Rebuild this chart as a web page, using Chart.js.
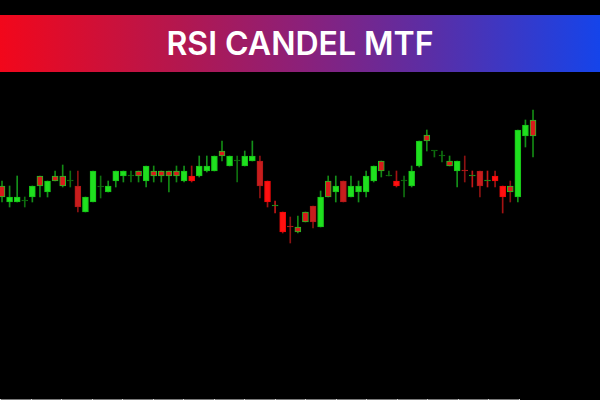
<!DOCTYPE html>
<html>
<head>
<meta charset="utf-8">
<title>RSI CANDEL MTF</title>
<script src="https://cdn.jsdelivr.net/npm/chart.js@4.4.1/dist/chart.umd.min.js"></script>
<style>
    html, body { margin: 0; padding: 0; background: #000; }
    #wrap { position: relative; width: 600px; height: 400px; overflow: hidden; }
    #chart { position: absolute; left: 0; top: 0; }
    #banner {
        position: absolute; left: 0; top: 15px; width: 600px; height: 57px;
        background: linear-gradient(to right, #f2071b 0%, #b3174f 30%, #8c2079 50%, #5a2ea6 72%, #1544ea 100%);
        color: #fff; text-align: center; line-height: 57px;
        font-family: Inter, "Open Sans", sans-serif; font-weight: 600; font-size: 32px;
    }
    #timeAxis {
        position: absolute; left: 0; bottom: 0; width: 520px; height: 1px;
        background: repeating-linear-gradient(to right, #ddd 0, #ddd 1px, #7a7a7a 1px, #7a7a7a 30.5px);
    }
</style>
</head>
<body>
<div id="wrap">
    <canvas id="chart" width="600" height="400"></canvas>
    <div id="banner">RSI CANDEL MTF</div>
    <div id="timeAxis"></div>
</div>
<script>
// price data, one entry per candle
const opens  = [1.0814,1.0798,1.0798,1.0799,1.0803,1.0824,1.0808,1.0824,1.0824,1.0819,
                1.0814,1.0788,1.0798,1.0813,1.0808,1.0819,1.0824,1.0824,1.0829,1.0819,
                1.0829,1.0829,1.0829,1.0829,1.0819,1.0824,1.0824,1.0829,1.0829,1.0849,
                1.0834,1.0839,1.0834,1.0839,1.0839,1.0819,1.0794,1.0788,1.0774,1.0773,
                1.0788,1.0794,1.0773,1.0819,1.0808,1.0819,1.0803,1.0808,1.0808,1.0819,
                1.0839,1.0824,1.0819,1.0819,1.0814,1.0834,1.0865,1.0849,1.0844,1.0839,
                1.0829,1.0829,1.0824,1.0829,1.0819,1.0824,1.0814,1.0808,1.0803,1.0864,
                1.0880];
const highs  = [1.0819,1.0814,1.0824,1.0803,1.0814,1.0824,1.0819,1.0829,1.0835,1.0829,
                1.0829,1.0803,1.0829,1.0824,1.0819,1.0829,1.0829,1.0829,1.0829,1.0834,
                1.0834,1.0829,1.0829,1.0834,1.0834,1.0834,1.0844,1.0844,1.0844,1.0859,
                1.0844,1.0844,1.0849,1.0859,1.0844,1.0819,1.0799,1.0788,1.0783,1.0784,
                1.0788,1.0794,1.0809,1.0824,1.0824,1.0819,1.0824,1.0819,1.0829,1.0834,
                1.0839,1.0829,1.0829,1.0824,1.0834,1.0859,1.0870,1.0849,1.0849,1.0844,
                1.0839,1.0844,1.0829,1.0829,1.0829,1.0829,1.0814,1.0819,1.0870,1.0880,
                1.0890];
const lows   = [1.0798,1.0793,1.0798,1.0793,1.0798,1.0803,1.0803,1.0819,1.0813,1.0813,
                1.0788,1.0788,1.0798,1.0802,1.0808,1.0813,1.0818,1.0818,1.0818,1.0813,
                1.0818,1.0818,1.0808,1.0818,1.0818,1.0818,1.0823,1.0828,1.0829,1.0839,
                1.0834,1.0818,1.0834,1.0839,1.0802,1.0793,1.0787,1.0767,1.0757,1.0767,
                1.0778,1.0772,1.0773,1.0803,1.0798,1.0798,1.0803,1.0798,1.0803,1.0818,
                1.0823,1.0824,1.0813,1.0803,1.0813,1.0833,1.0849,1.0843,1.0838,1.0834,
                1.0813,1.0818,1.0813,1.0803,1.0813,1.0813,1.0787,1.0798,1.0798,1.0853,
                1.0843];
const closes = [1.0803,1.0803,1.0803,1.0799,1.0814,1.0814,1.0819,1.0819,1.0814,1.0819,
                1.0793,1.0803,1.0829,1.0813,1.0814,1.0829,1.0829,1.0824,1.0824,1.0834,
                1.0824,1.0824,1.0824,1.0824,1.0829,1.0819,1.0834,1.0834,1.0844,1.0844,
                1.0844,1.0839,1.0844,1.0844,1.0814,1.0798,1.0794,1.0768,1.0773,1.0768,
                1.0778,1.0778,1.0803,1.0803,1.0814,1.0798,1.0814,1.0814,1.0824,1.0834,
                1.0829,1.0824,1.0814,1.0819,1.0829,1.0859,1.0859,1.0849,1.0844,1.0834,
                1.0839,1.0829,1.0824,1.0814,1.0819,1.0819,1.0803,1.0814,1.0870,1.0875,
                1.0864];
// RSI colouring state of each candle
const rsiState = ['mixed','bull','bull','doji','bull','mixed','bull','mixed','mixed','doji',
                  'weakBear','bull','bull','doji','bull','bull','bull','doji','mixed','bull',
                  'mixed','mixed','mixed','mixed','bull','bear','bull','bull','bull','mixed',
                  'bull','doji','bull','bull','weakBear','bear','crossDoji','bear','weakBear','mixed',
                  'mixed','weakBear','bull','mixed','bull','weakBear','bull','bull','bull','bull',
                  'mixed','doji','bear','doji','bull','bull','mixed','doji','doji','mixed',
                  'bull','weakBear','crossDoji','weakBear','crossDoji','bear','bear','mixedBear','bull','bull',
                  'mixed'];

const styles = {
    bull:      { fill: '#1fe01f', border: '#17c217', wick: '#14901a' },
    doji:      { fill: '#0f6f0f', border: '#0f6f0f', wick: '#0f6f0f' },
    bear:      { fill: '#ff1010', border: '#ee0808', wick: '#a31212' },
    weakBear:  { fill: '#c71d1d', border: '#b01818', wick: '#8c1212' },
    crossDoji: { fill: '#1c9c1c', border: '#1c9c1c', wick: '#c21818' },
    mixed:     { fill: '#d81b1b', border: '#22c022', wick: '#138a13' },
    mixedBear: { fill: '#d81b1b', border: '#22c022', wick: '#8c1212' }
};

const bodies = opens.map((o, i) => ({ x: i, y: [Math.min(o, closes[i]), Math.max(o, closes[i])] }));
const wicks = lows.map((l, i) => ({ x: i, y: [l, highs[i]] }));

new Chart(document.getElementById("chart"), {
    type: "bar",
    data: {
        datasets: [
            {
                label: "body",
                data: bodies,
                backgroundColor: rsiState.map(s => styles[s].fill),
                borderColor: rsiState.map(s => styles[s].border),
                borderWidth: 1,
                borderSkipped: false,
                barThickness: 6,
                minBarLength: 1,
                grouped: false
            },
            {
                label: "wick",
                data: wicks,
                backgroundColor: rsiState.map(s => styles[s].wick),
                borderWidth: 0,
                barThickness: 1,
                grouped: false
            }
        ]
    },
    options: {
        responsive: false,
        animation: false,
        layout: { padding: 0 },
        plugins: { legend: { display: false }, tooltip: { enabled: false } },
        scales: {
            x: { type: "linear", display: false, offset: false, min: -0.264, max: 78.83 },
            y: { display: false, min: 1.06, max: 1.10 }
        }
    }
});
</script>
</body>
</html>
